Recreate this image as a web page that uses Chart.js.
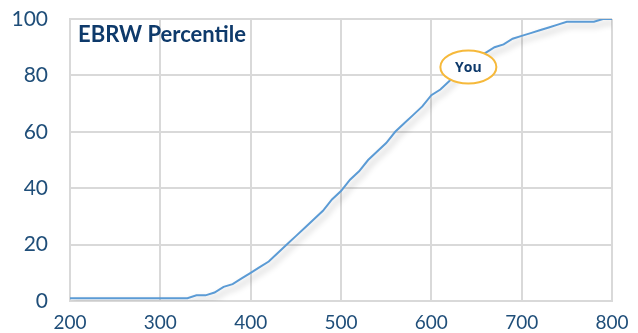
<!DOCTYPE html>
<html>
<head>
<script src="https://cdn.jsdelivr.net/npm/chart.js"></script>
<style>
  html, body { margin: 0; padding: 0; background: #fff; }
  #wrap { width: 638px; height: 333px; }
</style>
</head>
<body>
<div id="wrap"><canvas id="myChart"></canvas></div>
<script>
const scores = [200, 210, 220, 230, 240, 250, 260, 270, 280, 290, 300, 310, 320, 330,
  340, 350, 360, 370, 380, 390, 400, 410, 420, 430, 440, 450, 460, 470, 480, 490,
  500, 510, 520, 530, 540, 550, 560, 570, 580, 590, 600, 610, 620, 630, 640, 650,
  660, 670, 680, 690, 700, 710, 720, 730, 740, 750, 760, 770, 780, 790, 800];
const percentiles = [1, 1, 1, 1, 1, 1, 1, 1, 1, 1, 1, 1, 1, 1,
  2, 2, 3, 5, 6, 8, 10, 12, 14, 17, 20, 23, 26, 29, 32, 36,
  39, 43, 46, 50, 53, 56, 60, 63, 66, 69, 73, 75, 78, 81, 84, 86,
  88, 90, 91, 93, 94, 95, 96, 97, 98, 99, 99, 99, 99, 100, 100];
const xTicks = [200, 300, 400, 500, 600, 700, 800];
const yTicks = [0, 20, 40, 60, 80, 100];
const chartTitle = 'EBRW Percentile';
const youLabel = 'You';
const youScore = 641;
const youPct = 83;

const navy = '#0E3A6B';
const tickColor = '#1F4E79';
const gridColor = '#d9d9d9';

const points = scores.map((s, i) => ({ x: s, y: percentiles[i] }));

const lineShadow = {
  id: 'lineShadow',
  beforeDatasetDraw(chart) {
    const ctx = chart.ctx;
    ctx.save();
    ctx.shadowColor = 'rgba(0,0,0,0.28)';
    ctx.shadowBlur = 6;
    ctx.shadowOffsetX = 3;
    ctx.shadowOffsetY = 4;
  },
  afterDatasetDraw(chart) {
    chart.ctx.restore();
  }
};

const extras = {
  id: 'extras',
  afterDraw(chart) {
    const ctx = chart.ctx;
    const area = chart.chartArea;
    ctx.save();
    // title inside plot
    ctx.fillStyle = navy;
    ctx.font = 'bold 22px Lato';
    ctx.textBaseline = 'alphabetic';
    ctx.textAlign = 'left';
    ctx.fillText(chartTitle, area.left + 8, 42);
    // "You" bubble
    const cx = chart.scales.x.getPixelForValue(youScore);
    const cy = chart.scales.y.getPixelForValue(youPct);
    ctx.beginPath();
    ctx.ellipse(cx, cy, 28, 16.5, 0, 0, Math.PI * 2);
    ctx.fillStyle = '#fff';
    ctx.fill();
    ctx.lineWidth = 2;
    ctx.strokeStyle = '#F6B93B';
    ctx.stroke();
    ctx.fillStyle = navy;
    ctx.font = 'bold 14px "Open Sans"';
    ctx.textAlign = 'center';
    ctx.textBaseline = 'middle';
    ctx.fillText(youLabel, cx, cy + 1);
    ctx.restore();
  }
};

const ctx = document.getElementById('myChart').getContext('2d');
const myChart = new Chart(ctx, {
  type: 'line',
  data: {
    datasets: [{
      data: points,
      borderColor: '#5B9BD5',
      borderWidth: 2,
      pointRadius: 0,
      fill: false,
      tension: 0
    }]
  },
  options: {
    responsive: true,
    maintainAspectRatio: false,
    animation: false,
    layout: { padding: { top: 19, right: 26, left: 0, bottom: 0 } },
    plugins: {
      legend: { display: false },
      tooltip: { enabled: false }
    },
    scales: {
      x: {
        type: 'linear',
        min: 200,
        max: 800,
        afterBuildTicks(scale) { scale.ticks = xTicks.map(v => ({ value: v })); },
        afterFit(scale) {
          scale.height = 32;
          scale.paddingLeft = 0;
          scale.paddingRight = 0;
        },
        grid: { color: gridColor, lineWidth: 2, drawTicks: false },
        border: { color: gridColor, width: 2 },
        ticks: { color: tickColor, font: { family: 'Lato', size: 19 }, padding: 10, maxRotation: 0 }
      },
      y: {
        min: 0,
        max: 100,
        afterBuildTicks(scale) { scale.ticks = yTicks.map(v => ({ value: v })); },
        afterFit(scale) {
          scale.width = 70;
          scale.paddingTop = 0;
          scale.paddingBottom = 0;
        },
        grid: { color: gridColor, lineWidth: 2, drawTicks: false },
        border: { color: gridColor, width: 2 },
        ticks: { color: tickColor, font: { family: 'Lato', size: 21 }, padding: 22 }
      }
    }
  },
  plugins: [lineShadow, extras]
});
</script>
</body>
</html>
